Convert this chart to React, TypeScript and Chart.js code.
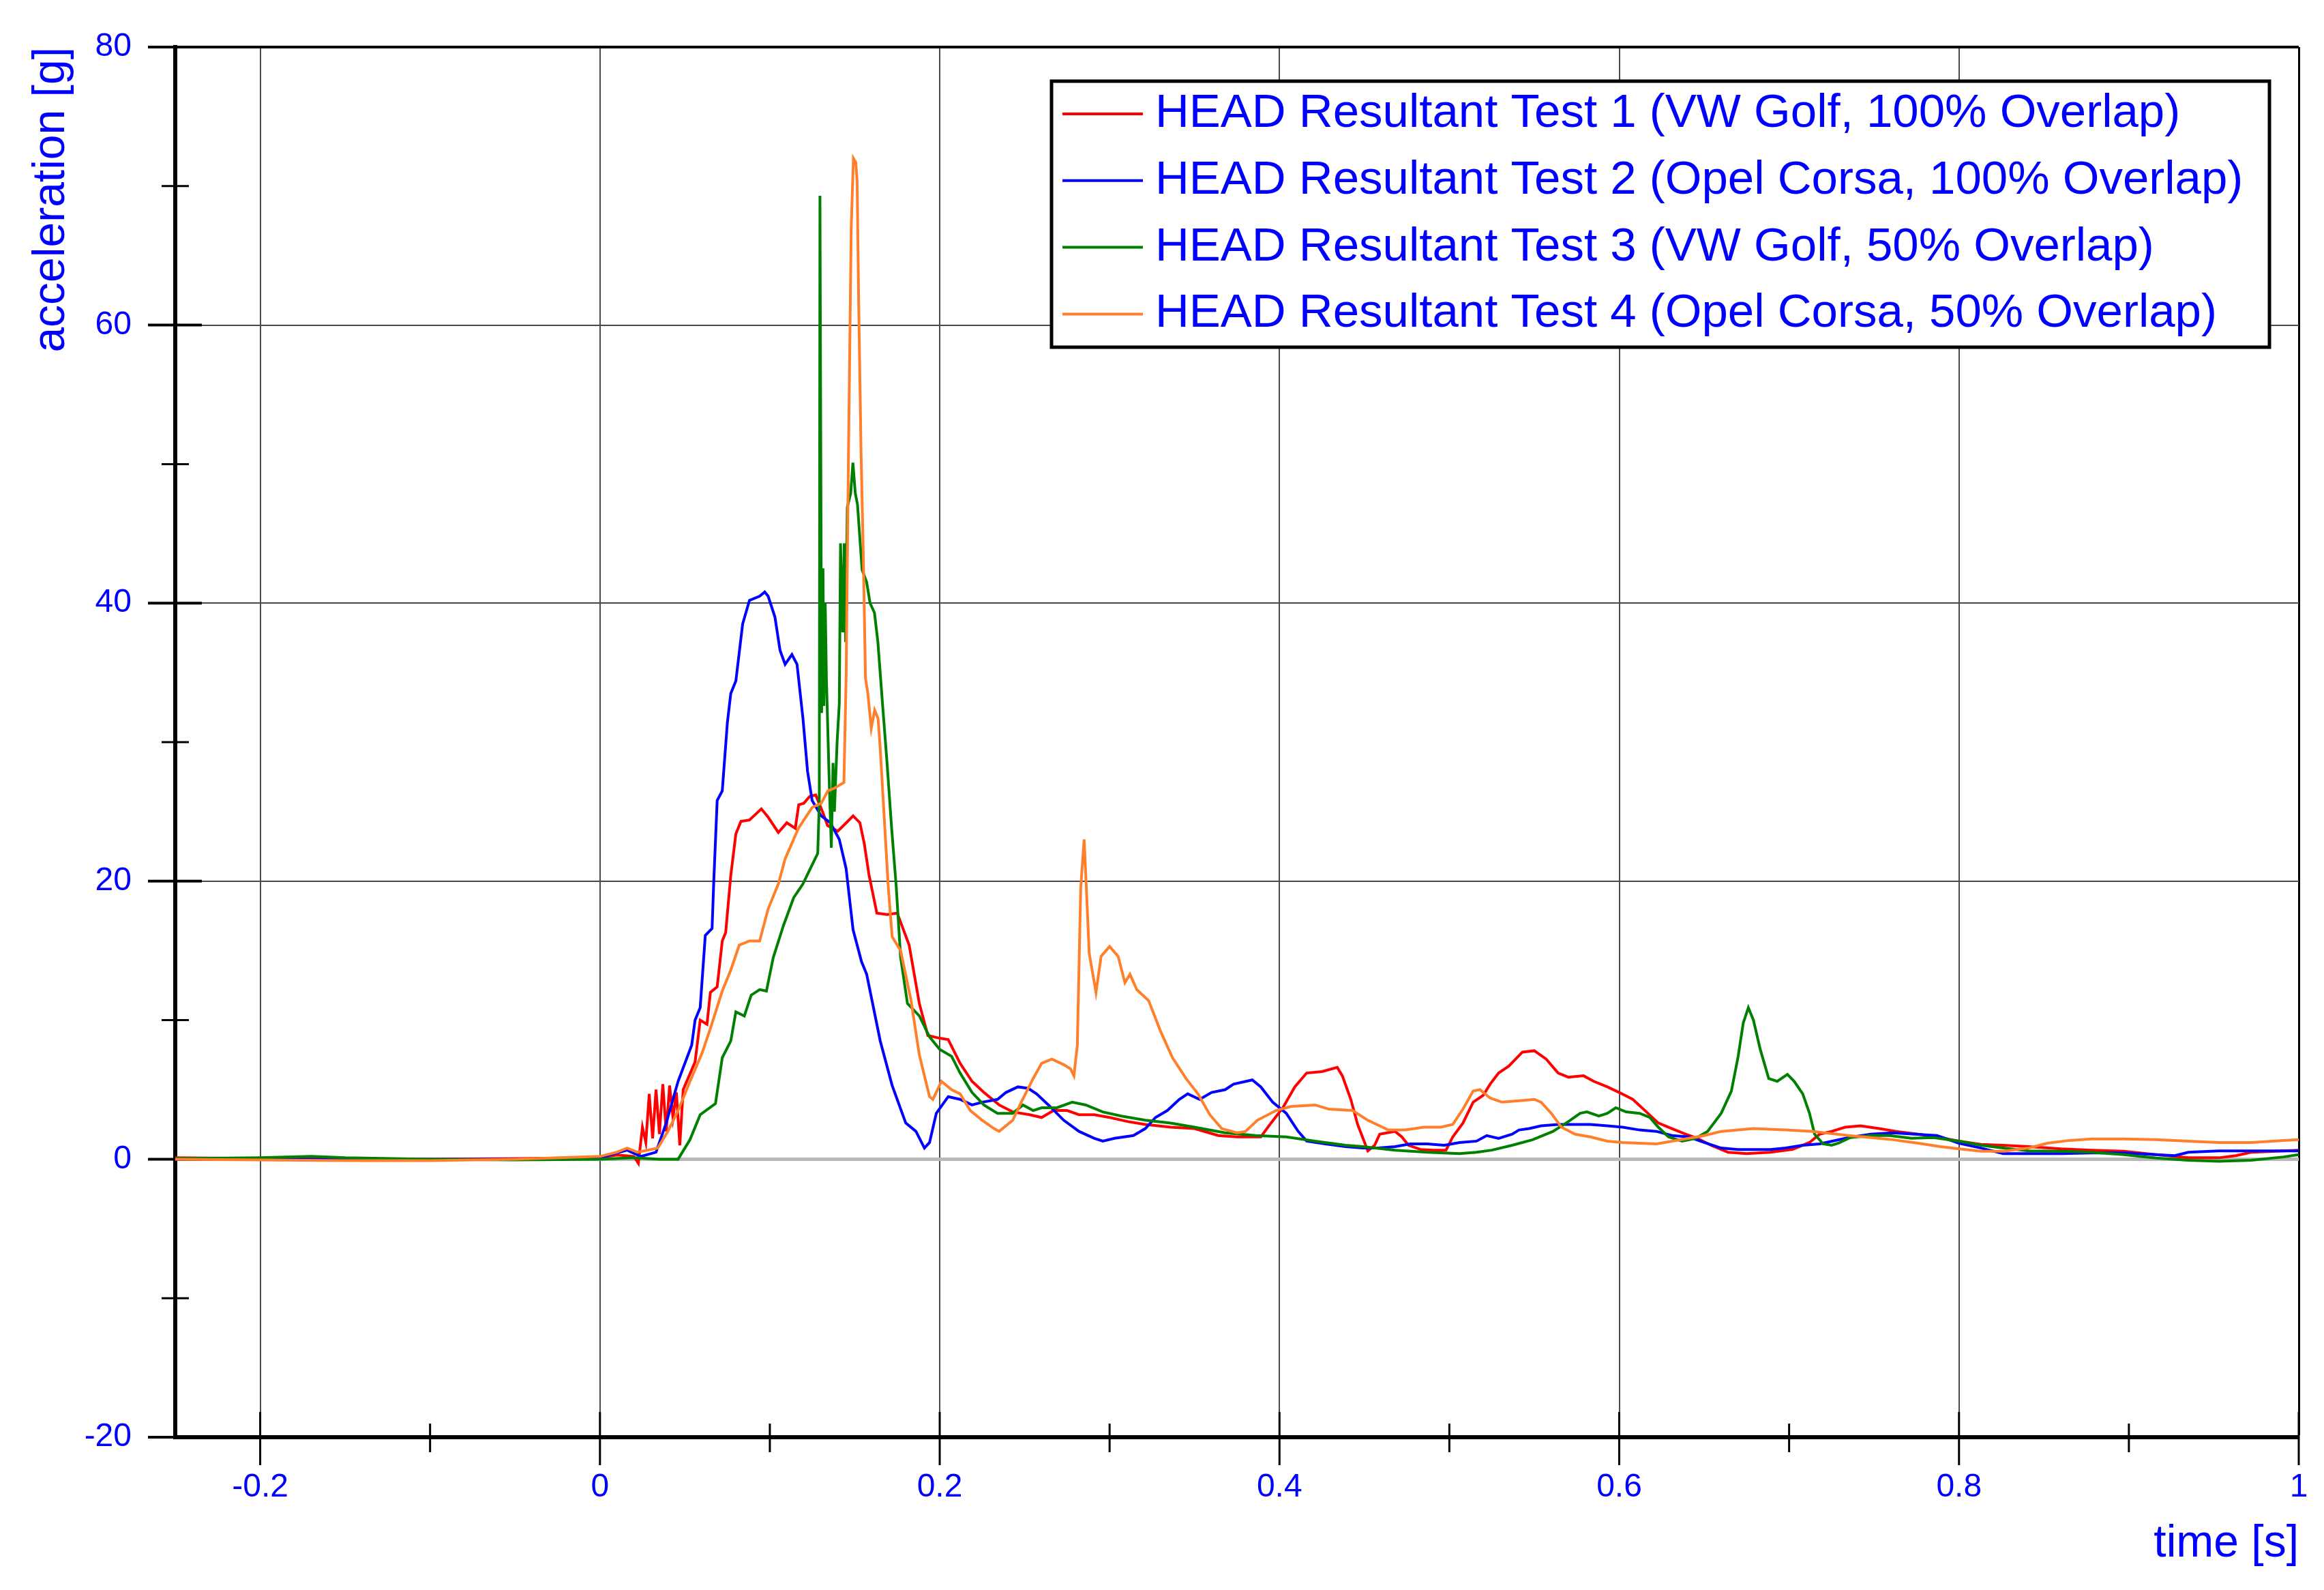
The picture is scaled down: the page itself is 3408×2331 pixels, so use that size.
import React, { useEffect, useRef } from "react";
import { Chart, registerables } from "chart.js";

Chart.register(...registerables);

const FONT = '"Liberation Sans", Arial, Helvetica, sans-serif';
const TEXT_BLUE = "#0000ff";

const seriesLabels = [
  "HEAD Resultant Test 1 (VW Golf, 100% Overlap)",
  "HEAD Resultant Test 2 (Opel Corsa, 100% Overlap)",
  "HEAD Resultant Test 3 (VW Golf, 50% Overlap)",
  "HEAD Resultant Test 4 (Opel Corsa, 50% Overlap)",
];
const seriesColors = ["#ff0000", "#0000ff", "#008000", "#ff7f2a"];

const xTickValues = [-0.2, 0, 0.2, 0.4, 0.6, 0.8, 1];
const yTickValues = [-20, 0, 20, 40, 60, 80];
const xTitle = "time [s]";
const yTitle = "acceleration [g]";

// Test 1 (red)
const test1Time = [
  -0.25, -0.2, -0.15, -0.1, -0.05, 0, 0.01, 0.02, 0.0226, 0.025, 0.027, 0.029, 0.031, 0.033, 0.035, 0.037,
  0.039, 0.041, 0.043, 0.045, 0.047, 0.049, 0.056, 0.059, 0.063, 0.065, 0.069, 0.072, 0.074, 0.077, 0.08,
  0.083, 0.088, 0.095, 0.099, 0.105, 0.11, 0.115, 0.117, 0.12, 0.1235, 0.127, 0.131, 0.134, 0.14, 0.145,
  0.149, 0.153, 0.1556, 0.1583, 0.163, 0.169, 0.175, 0.182, 0.188, 0.193, 0.2, 0.205, 0.212, 0.219, 0.226,
  0.235, 0.243, 0.253, 0.26, 0.267, 0.275, 0.282, 0.291, 0.3, 0.311, 0.321, 0.336, 0.35, 0.364, 0.375,
  0.389, 0.395, 0.402, 0.409, 0.416, 0.425, 0.434, 0.437, 0.442, 0.446, 0.452, 0.456, 0.459, 0.468, 0.472,
  0.476, 0.483, 0.491, 0.498, 0.502, 0.508, 0.514, 0.52, 0.524, 0.529, 0.535, 0.543, 0.55, 0.557, 0.564,
  0.57, 0.579, 0.585, 0.593, 0.6, 0.608, 0.616, 0.623, 0.631, 0.639, 0.646, 0.654, 0.664, 0.675, 0.689,
  0.702, 0.712, 0.718, 0.725, 0.733, 0.742, 0.753, 0.763, 0.776, 0.789, 0.8, 0.813, 0.826, 0.841, 0.86,
  0.878, 0.897, 0.916, 0.935, 0.953, 0.963, 0.972, 0.987, 1.0,
];
const test1Accel = [
  0.1, 0.05, 0.05, 0, 0.05, 0.1, 0.3, 0.2, -0.3, 2.3, 1.2, 4.7, 1.5, 5.0, 1.8, 5.4,
  2.0, 5.3, 3.0, 4.8, 1.0, 5.0, 7.0, 10.0, 9.7, 12.0, 12.4, 15.7, 16.3, 20.4, 23.4,
  24.3, 24.4, 25.2, 24.6, 23.5, 24.2, 23.8, 25.5, 25.6, 26.1, 26.2, 25.0, 24.0, 23.6, 24.2,
  24.7, 24.2, 22.7, 20.5, 17.7, 17.6, 17.7, 15.4, 11.2, 8.9, 8.7, 8.6, 6.9, 5.6, 4.8,
  3.9, 3.4, 3.2, 3.0, 3.5, 3.5, 3.2, 3.2, 3.0, 2.7, 2.5, 2.3, 2.2, 1.7, 1.6,
  1.6, 2.6, 3.7, 5.2, 6.2, 6.3, 6.6, 6.0, 4.3, 2.5, 0.6, 1.0, 1.8, 2.0, 1.6,
  1.0, 0.7, 0.65, 0.65, 1.6, 2.6, 4.1, 4.6, 5.4, 6.2, 6.7, 7.7, 7.8, 7.2, 6.2,
  5.9, 6.0, 5.6, 5.2, 4.8, 4.3, 3.4, 2.6, 2.2, 1.8, 1.5, 1.0, 0.5, 0.4, 0.5,
  0.7, 1.2, 1.8, 2.0, 2.3, 2.4, 2.2, 2.0, 1.8, 1.55, 1.3, 1.06, 1.0, 0.9, 0.74,
  0.65, 0.57, 0.33, 0.1, 0.1, 0.25, 0.5, 0.57, 0.65,
];

// Test 2 (blue)
const test2Time = [
  -0.25, -0.15, -0.05, 0, 0.016, 0.024, 0.033, 0.039, 0.046, 0.054, 0.056, 0.059, 0.062, 0.066, 0.067,
  0.069, 0.072, 0.075, 0.077, 0.08, 0.084, 0.088, 0.094, 0.097, 0.099, 0.103, 0.106, 0.109, 0.113, 0.116,
  0.1195, 0.1222, 0.1249, 0.1302, 0.1356, 0.1409, 0.1449, 0.149, 0.154, 0.157, 0.165, 0.172, 0.18, 0.186,
  0.191, 0.194, 0.198, 0.205, 0.212, 0.219, 0.225, 0.234, 0.239, 0.246, 0.252, 0.257, 0.264, 0.273, 0.282,
  0.291, 0.296, 0.303, 0.314, 0.321, 0.327, 0.334, 0.341, 0.346, 0.353, 0.36, 0.368, 0.373, 0.384, 0.389,
  0.396, 0.404, 0.411, 0.416, 0.427, 0.439, 0.449, 0.458, 0.468, 0.477, 0.487, 0.497, 0.506, 0.516, 0.522,
  0.529, 0.537, 0.541, 0.547, 0.554, 0.564, 0.574, 0.583, 0.593, 0.602, 0.612, 0.622, 0.631, 0.641, 0.65,
  0.66, 0.67, 0.679, 0.689, 0.698, 0.708, 0.718, 0.735, 0.748, 0.761, 0.774, 0.787, 0.8, 0.813, 0.826,
  0.841, 0.86, 0.878, 0.897, 0.916, 0.927, 0.935, 0.953, 0.972, 1.0,
];
const test2Accel = [
  0, 0, 0, 0.1, 0.65, 0.2, 0.5, 2.6, 5.6, 8.2, 10.0, 10.9, 16.1, 16.6, 20.0,
  25.8, 26.5, 31.4, 33.5, 34.4, 38.5, 40.2, 40.5, 40.8, 40.5, 39.0, 36.6, 35.6, 36.3, 35.6,
  31.7, 27.9, 25.8, 24.7, 24.2, 23.0, 20.9, 16.5, 14.2, 13.3, 8.5, 5.3, 2.6, 2.0,
  0.8, 1.2, 3.3, 4.5, 4.3, 3.9, 4.1, 4.3, 4.8, 5.2, 5.1, 4.7, 3.9, 2.8, 2.0,
  1.5, 1.3, 1.5, 1.7, 2.2, 3.0, 3.5, 4.3, 4.7, 4.3, 4.8, 5.0, 5.4, 5.7, 5.2,
  4.1, 3.3, 2.0, 1.3, 1.1, 0.9, 0.8, 0.8, 0.9, 1.1, 1.1, 1.0, 1.2, 1.3, 1.7,
  1.5, 1.8, 2.1, 2.2, 2.4, 2.5, 2.5, 2.5, 2.4, 2.3, 2.1, 2.0, 1.7, 1.6, 1.2,
  0.8, 0.7, 0.7, 0.7, 0.8, 1.0, 1.1, 1.55, 1.8, 1.9, 1.8, 1.7, 1.15, 0.8, 0.4,
  0.4, 0.4, 0.45, 0.45, 0.33, 0.25, 0.5, 0.6, 0.6, 0.6,
];

// Test 3 (green)
const test3Time = [
  -0.25, -0.2, -0.17, -0.15, -0.1, -0.05, 0, 0.02, 0.035, 0.046, 0.053, 0.059, 0.068, 0.072, 0.077,
  0.08, 0.085, 0.089, 0.094, 0.098, 0.102, 0.108, 0.114, 0.1195, 0.123, 0.1282, 0.1291, 0.1295, 0.1305,
  0.1313, 0.1318, 0.1326, 0.1333, 0.1349, 0.1362, 0.1372, 0.138, 0.1396, 0.1409, 0.1416, 0.1429, 0.1438,
  0.1446, 0.1456, 0.1476, 0.1489, 0.1503, 0.1516, 0.1543, 0.157, 0.159, 0.1616, 0.1636, 0.1663, 0.169,
  0.1717, 0.1744, 0.177, 0.181, 0.188, 0.194, 0.2, 0.207, 0.212, 0.219, 0.226, 0.234, 0.243, 0.249, 0.255,
  0.26, 0.269, 0.278, 0.286, 0.296, 0.307, 0.321, 0.336, 0.35, 0.368, 0.386, 0.404, 0.421, 0.439, 0.449,
  0.468, 0.487, 0.506, 0.516, 0.525, 0.537, 0.549, 0.561, 0.57, 0.577, 0.581, 0.588, 0.593, 0.598, 0.604,
  0.612, 0.618, 0.623, 0.629, 0.637, 0.645, 0.652, 0.66, 0.666, 0.67, 0.673, 0.676, 0.679, 0.683, 0.688,
  0.693, 0.699, 0.703, 0.708, 0.712, 0.715, 0.72, 0.725, 0.729, 0.736, 0.748, 0.759, 0.772, 0.785, 0.8,
  0.813, 0.826, 0.841, 0.86, 0.878, 0.897, 0.916, 0.935, 0.953, 0.972, 0.991, 1.0,
];
const test3Accel = [
  0.05, 0.1, 0.2, 0.1, 0, -0.05, 0, 0.1, 0, 0, 1.4, 3.2, 4.0, 7.3, 8.5,
  10.6, 10.3, 11.8, 12.2, 12.1, 14.5, 16.8, 18.8, 19.8, 20.7, 22.0, 25.6, 69.3, 32.1,
  42.5, 32.6, 40.0, 34.6, 27.4, 22.4, 28.5, 25.0, 30.0, 32.8, 44.3, 37.9, 44.3,
  37.2, 46.9, 47.9, 50.1, 47.9, 47.1, 42.4, 41.5, 40.0, 39.3, 37.2, 32.8, 28.5,
  23.8, 19.6, 14.5, 11.2, 10.3, 8.8, 7.9, 7.4, 6.2, 4.8, 3.9, 3.3, 3.3, 3.9, 3.5,
  3.7, 3.7, 4.1, 3.9, 3.4, 3.1, 2.8, 2.6, 2.3, 1.9, 1.7, 1.6, 1.3, 1.0, 0.9,
  0.65, 0.5, 0.4, 0.5, 0.65, 1.0, 1.4, 2.0, 2.7, 3.3, 3.4, 3.1, 3.3, 3.7, 3.4,
  3.3, 3.0, 2.3, 1.6, 1.3, 1.5, 2.0, 3.3, 4.9, 7.4, 9.8, 10.9, 10.0, 7.9, 5.8,
  5.6, 6.1, 5.6, 4.7, 3.3, 1.8, 1.1, 1.0, 1.15, 1.55, 1.7, 1.7, 1.5, 1.55, 1.3,
  1.0, 0.8, 0.6, 0.57, 0.5, 0.33, 0.08, -0.08, -0.15, -0.08, 0.16, 0.33,
];

// Test 4 (orange)
const test4Time = [
  -0.25, -0.2, -0.15, -0.1, -0.05, 0, 0.01, 0.016, 0.022, 0.034, 0.04, 0.046, 0.053, 0.06, 0.065,
  0.072, 0.077, 0.082, 0.088, 0.094, 0.099, 0.105, 0.109, 0.1168, 0.1249, 0.1302, 0.1342, 0.1382, 0.1436,
  0.1449, 0.1463, 0.1479, 0.1492, 0.1506, 0.1514, 0.1523, 0.1537, 0.155, 0.1563, 0.1577, 0.1597, 0.1617,
  0.1637, 0.165, 0.1677, 0.1697, 0.172, 0.177, 0.183, 0.188, 0.194, 0.196, 0.201, 0.207, 0.212, 0.218,
  0.225, 0.232, 0.235, 0.243, 0.248, 0.255, 0.26, 0.266, 0.273, 0.277, 0.279, 0.281, 0.283, 0.285, 0.286,
  0.288, 0.292, 0.295, 0.3, 0.305, 0.309, 0.312, 0.316, 0.323, 0.33, 0.337, 0.345, 0.352, 0.359, 0.366,
  0.375, 0.38, 0.387, 0.398, 0.407, 0.421, 0.429, 0.443, 0.452, 0.464, 0.474, 0.485, 0.495, 0.502, 0.508,
  0.514, 0.518, 0.524, 0.531, 0.541, 0.55, 0.554, 0.56, 0.566, 0.574, 0.583, 0.593, 0.602, 0.622, 0.641,
  0.65, 0.66, 0.679, 0.698, 0.714, 0.735, 0.748, 0.761, 0.776, 0.789, 0.8, 0.813, 0.826, 0.841, 0.852,
  0.865, 0.878, 0.897, 0.916, 0.935, 0.953, 0.972, 0.991, 1.0,
];
const test4Accel = [
  0, -0.05, -0.1, -0.1, 0, 0.2, 0.5, 0.8, 0.5, 0.8, 2.0, 3.5, 5.6, 7.6, 9.4,
  12.1, 13.6, 15.4, 15.7, 15.7, 18.0, 19.8, 21.6, 23.8, 25.3, 25.6, 26.5, 26.7, 27.1,
  34.6, 50.8, 67.0, 72.0, 71.7, 70.3, 61.6, 50.8, 43.6, 34.6, 33.5, 31.0, 32.3,
  31.7, 29.5, 23.8, 19.6, 16.0, 15.0, 11.5, 7.5, 4.5, 4.3, 5.6, 5.0, 4.7, 3.5,
  2.8, 2.2, 2.0, 2.8, 4.1, 5.8, 6.9, 7.2, 6.8, 6.5, 6.0, 8.2, 19.5, 23.0, 20.4,
  14.8, 12.0, 14.6, 15.3, 14.6, 12.7, 13.3, 12.2, 11.4, 9.2, 7.3, 5.8, 4.7, 3.2, 2.2,
  1.9, 2.0, 2.8, 3.5, 3.8, 3.9, 3.6, 3.5, 2.8, 2.1, 2.1, 2.3, 2.3, 2.5, 3.6,
  4.9, 5.0, 4.4, 4.1, 4.2, 4.3, 4.1, 3.3, 2.3, 1.8, 1.6, 1.3, 1.2, 1.1, 1.5,
  1.7, 2.0, 2.2, 2.1, 2.0, 1.7, 1.55, 1.4, 1.15, 0.9, 0.74, 0.57, 0.57, 0.8, 1.15,
  1.35, 1.45, 1.45, 1.4, 1.3, 1.2, 1.2, 1.35, 1.4,
];

const seriesTimes = [test1Time, test2Time, test3Time, test4Time];
const seriesAccels = [test1Accel, test2Accel, test3Accel, test4Accel];

function toPoints(times: number[], values: number[]) {
  const n = Math.min(times.length, values.length);
  const pts: { x: number; y: number }[] = [];
  for (let i = 0; i < n; i++) pts.push({ x: times[i], y: values[i] });
  return pts;
}

function strokeLine(ctx: CanvasRenderingContext2D, x1: number, y1: number, x2: number, y2: number) {
  ctx.beginPath();
  ctx.moveTo(x1, y1);
  ctx.lineTo(x2, y2);
  ctx.stroke();
}

const tickMarksPlugin = {
  id: "tickMarks",
  beforeDatasetsDraw(chart: any) {
    const { ctx, chartArea, scales } = chart;
    const xs = scales.x;
    const ys = scales.y;
    ctx.save();
    ctx.strokeStyle = "#000";
    ctx.lineCap = "butt";
    ctx.lineWidth = 4;
    yTickValues.forEach((v) => {
      const p = ys.getPixelForValue(v);
      strokeLine(ctx, chartArea.left - 40, p, chartArea.left + 39, p);
    });
    ctx.lineWidth = 3;
    for (let i = 0; i < yTickValues.length - 1; i++) {
      const p = ys.getPixelForValue((yTickValues[i] + yTickValues[i + 1]) / 2);
      strokeLine(ctx, chartArea.left - 20, p, chartArea.left + 20, p);
    }
    ctx.lineWidth = 3;
    xTickValues.forEach((v) => {
      const p = xs.getPixelForValue(v);
      strokeLine(ctx, p, chartArea.bottom - 37, p, chartArea.bottom + 41);
    });
    for (let i = 0; i < xTickValues.length - 1; i++) {
      const p = xs.getPixelForValue((xTickValues[i] + xTickValues[i + 1]) / 2);
      strokeLine(ctx, p, chartArea.bottom - 20, p, chartArea.bottom + 22);
    }
    ctx.restore();
  },
};

const boxLegendPlugin = {
  id: "boxLegend",
  afterDatasetsDraw(chart: any) {
    const { ctx, chartArea } = chart;
    const right = chartArea.right - 43;
    const left = right - 1786;
    const top = chartArea.top + 50;
    const bottom = top + 390;
    ctx.save();
    ctx.fillStyle = "#ffffff";
    ctx.fillRect(left, top, right - left, bottom - top);
    ctx.lineWidth = 5;
    ctx.strokeStyle = "#000";
    ctx.strokeRect(left, top, right - left, bottom - top);
    ctx.font = `69px ${FONT}`;
    ctx.textBaseline = "middle";
    ctx.textAlign = "left";
    chart.data.datasets.forEach((ds: any, i: number) => {
      const y = top + 48 + i * 97.8;
      ctx.strokeStyle = ds.borderColor;
      ctx.lineWidth = 4;
      strokeLine(ctx, left + 16, y, left + 134, y);
      ctx.fillStyle = TEXT_BLUE;
      ctx.fillText(ds.label, left + 152, y);
    });
    ctx.restore();
  },
};

function zeroScalePadding(s: any) {
  s.paddingTop = 0;
  s.paddingBottom = 0;
  s.paddingLeft = 0;
  s.paddingRight = 0;
}

export default function App() {
  const canvasRef = useRef<HTMLCanvasElement | null>(null);

  useEffect(() => {
    if (!canvasRef.current) return;
    Chart.defaults.font.family = FONT;
    const datasets = seriesLabels.map((label, i) => ({
      label,
      data: toPoints(seriesTimes[i], seriesAccels[i]),
      borderColor: seriesColors[i],
      backgroundColor: seriesColors[i],
      borderWidth: 4,
      pointRadius: 0,
      tension: 0,
      fill: false,
      order: seriesLabels.length - 1 - i,
    }));

    const chart = new Chart(canvasRef.current, {
      type: "line",
      data: { datasets },
      plugins: [tickMarksPlugin, boxLegendPlugin],
      options: {
        animation: false,
        responsive: false,
        devicePixelRatio: 1,
        events: [],
        layout: { padding: { top: 69, right: 37, bottom: 0, left: 0 } },
        plugins: {
          legend: { display: false },
          tooltip: { enabled: false },
          title: { display: false },
        },
        scales: {
          x: {
            type: "linear",
            min: -0.25,
            max: 1,
            afterBuildTicks: (s: any) => {
              s.ticks = xTickValues.map((v) => ({ value: v }));
            },
            afterFit: (s: any) => {
              s.height = 224;
              zeroScalePadding(s);
            },
            ticks: {
              color: TEXT_BLUE,
              font: { size: 48, family: FONT },
              padding: 45,
              maxRotation: 0,
              autoSkip: false,
              callback: (v: any) => String(v),
            },
            grid: {
              drawTicks: false,
              color: (c: any) => (c.tick && c.tick.value === 1 ? "#000000" : "#4a4a4a"),
              lineWidth: (c: any) => (c.tick && c.tick.value === 1 ? 3 : 2),
            },
            border: { display: true, color: "#000000", width: 6 },
            title: {
              display: true,
              text: xTitle,
              align: "end",
              color: TEXT_BLUE,
              font: { size: 66, family: FONT },
              padding: { top: 0, bottom: 28 },
            },
          },
          y: {
            type: "linear",
            min: -20,
            max: 80,
            afterBuildTicks: (s: any) => {
              s.ticks = yTickValues.map((v) => ({ value: v }));
            },
            afterFit: (s: any) => {
              s.width = 257;
              zeroScalePadding(s);
            },
            ticks: {
              color: TEXT_BLUE,
              font: { size: 48, family: FONT },
              padding: 64,
              autoSkip: false,
              callback: (v: any) => String(v),
            },
            grid: {
              drawTicks: false,
              color: (c: any) => {
                const v = c.tick ? c.tick.value : null;
                if (v === 0) return "#b8b8b8";
                if (v === 80 || v === -20) return "#000000";
                return "#4a4a4a";
              },
              lineWidth: (c: any) => {
                const v = c.tick ? c.tick.value : null;
                if (v === 0) return 5;
                if (v === 80) return 4;
                if (v === -20) return 6;
                return 2;
              },
            },
            border: { display: true, color: "#000000", width: 6 },
            title: {
              display: true,
              text: yTitle,
              align: "end",
              color: TEXT_BLUE,
              font: { size: 66, family: FONT },
              padding: { top: 36, bottom: 0 },
            },
          },
        },
      } as any,
    });

    return () => {
      chart.destroy();
    };
  }, []);

  return (
    <div style={{ position: "fixed", left: 0, top: 0, width: 3408, height: 2331, background: "#ffffff" }}>
      <canvas ref={canvasRef} width={3408} height={2331} style={{ display: "block" }} />
    </div>
  );
}
